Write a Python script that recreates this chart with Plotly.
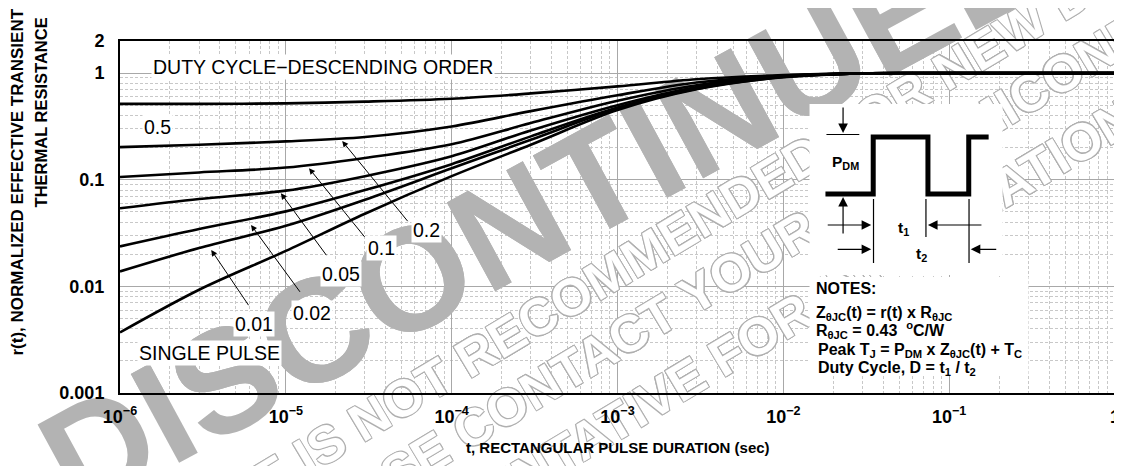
import plotly.graph_objects as go

# ---------------- data ----------------
t = [1e-6, 3e-6, 1e-5, 3e-5, 1e-4, 3e-4, 1e-3, 3e-3, 1e-2, 3e-2, 1e-1, 1.0]
r_d050 = [0.515, 0.515, 0.52, 0.54, 0.575, 0.645, 0.75, 0.875, 0.96, 0.997, 1.0, 1.0]
r_d020 = [0.202, 0.213, 0.229, 0.252, 0.316, 0.44, 0.62, 0.815, 0.945, 0.995, 1.0, 1.0]
r_d010 = [0.106, 0.117, 0.13, 0.16, 0.215, 0.34, 0.55, 0.77, 0.935, 0.995, 1.0, 1.0]
r_d005 = [0.054, 0.066, 0.079, 0.108, 0.166, 0.29, 0.5, 0.74, 0.93, 0.995, 1.0, 1.0]
r_d002 = [0.0237, 0.0345, 0.0505, 0.08, 0.14, 0.255, 0.475, 0.725, 0.925, 0.995, 1.0, 1.0]
r_d001 = [0.0138, 0.0229, 0.037, 0.065, 0.128, 0.237, 0.465, 0.715, 0.92, 0.995, 1.0, 1.0]
r_single = [0.0037, 0.0093, 0.0215, 0.048, 0.108, 0.213, 0.45, 0.705, 0.915, 0.995, 1.0, 1.0]

x_tickvals = [1e-6, 1e-5, 1e-4, 1e-3, 1e-2, 1e-1, 1]
x_ticktext = ["10<sup>−6</sup>", "10<sup>−5</sup>", "10<sup>−4</sup>", "10<sup>−3</sup>",
              "10<sup>−2</sup>", "10<sup>−1</sup>", "1"]
y_tickvals = [0.001, 0.01, 0.1, 1, 2]
y_ticktext = ["0.001", "0.01", "0.1", "1", "2"]

duty_labels = ["0.2", "0.1", "0.05", "0.02", "0.01"]

# ---------------- layout geometry (page pixels) ----------------
OFF = 8                      # page body margin of the html page
W, H = 1122 - OFF, 466 - OFF
ML, MR, MT, MB = 120 - OFF, 2, 41 - OFF, 73
PL, PR, PT, PB = 120, 1120, 41, 393   # plot area in page pixels
FONT = "Liberation Sans, Arial, Helvetica, sans-serif"
MAJOR = "#a8a8a8"
MINOR = "#c8c8c8"
YTOP = 0.30103


def px(x):
    return (x - PL) / (PR - PL)


def py(y):
    return (PB - y) / (PB - PT)


def dx(x):
    return 10 ** (-6 + 6 * px(x))


def dy(y):
    return 10 ** (-3 + (3 + YTOP) * py(y))


fig = go.Figure()
for vals in [r_d050, r_d020, r_d010, r_d005, r_d002, r_d001, r_single]:
    fig.add_trace(go.Scatter(x=t, y=vals, mode="lines",
                             line=dict(color="black", width=2.6, shape="spline", smoothing=0.9),
                             showlegend=False, hoverinfo="skip"))

axis_common = dict(showline=True, mirror=True, linecolor="black", linewidth=2,
                   ticks="", showgrid=True, gridcolor=MAJOR, gridwidth=1, zeroline=False,
                   ticklabeloverflow="allow",
                   tickfont=dict(family=FONT, size=18, color="black", weight="bold"))

fig.update_xaxes(type="log", range=[-6, 0], tickmode="array", tickvals=x_tickvals,
                 ticktext=x_ticktext, ticklabelstandoff=6,
                 minor=dict(dtick="D1", showgrid=True, gridcolor=MINOR, griddash="3px,2px", gridwidth=1),
                 **axis_common)
fig.update_yaxes(type="log", range=[-3, YTOP], tickmode="array", tickvals=y_tickvals,
                 ticktext=y_ticktext, ticklabelstandoff=10,
                 minor=dict(dtick="D1", showgrid=True, gridcolor=MINOR, griddash="3px,2px", gridwidth=1),
                 **axis_common)

ann = []


def text(s, x, y, size=19.5, bold=False, xanchor="center", bg=None, angle=0, family=FONT):
    d = dict(text=s, xref="paper", yref="paper", x=px(x), y=py(y), showarrow=False,
             xanchor=xanchor, yanchor="middle", textangle=angle,
             font=dict(family=family, size=size, color="black", weight="bold" if bold else "normal"))
    if bg:
        d.update(bgcolor=bg, borderpad=1)
    ann.append(d)


def arrow(tip, tail, head=2, size=1.2, width=1.0):
    ann.append(dict(text="", xref="paper", yref="paper", x=px(tip[0]), y=py(tip[1]),
                    ax=tail[0] - tip[0], ay=tail[1] - tip[1], showarrow=True,
                    arrowhead=head, arrowsize=size, arrowwidth=width, arrowcolor="black",
                    standoff=0, startstandoff=0))


# axis titles
text("t, RECTANGULAR PULSE DURATION (sec)", 621, 447, size=15, bold=True)
text("r(t), NORMALIZED EFFECTIVE TRANSIENT", 17, 182, size=17, bold=True, angle=-90)
text("THERMAL RESISTANCE", 41, 112, size=16.5, bold=True, angle=-90)

# curve labels
text("DUTY CYCLE−DESCENDING ORDER", 324.5, 67, bg="white")
text("0.5", 158, 127, bg="white")
label_pos = [(428, 230), (383, 248), (342, 274), (313, 313), (255, 324)]
for s, (lx, ly) in zip(duty_labels, label_pos):
    text(s, lx, ly, bg="white")
text("SINGLE PULSE", 210, 353, bg="white")

arrows = [((343.3, 141), (410, 222.7)), ((310, 168.3), (366.7, 238.3)),
          ((281.7, 193.3), (328.3, 256.7)), ((251.7, 225), (301.7, 293.3)),
          ((211.7, 250), (250, 306.7))]
for tip, tail in arrows:
    arrow(tip, tail)

shapes = []


# watermark: one copy between gridlines and curves, one copy under the plot for the outer part
def wm(s, cx, cy, size, angle, color, shadow=None, paper=False):
    f = dict(family=FONT, size=size, color=color, weight="bold")
    if shadow:
        f["shadow"] = shadow
    d = dict(type="rect", line=dict(width=0, color="rgba(0,0,0,0)"), fillcolor="rgba(0,0,0,0)",
             label=dict(text=s, font=f, textangle=angle, textposition="middle center"))
    if paper:
        d.update(xref="paper", yref="paper", x0=px(cx - 2), x1=px(cx + 2),
                 y0=py(cy + 2), y1=py(cy - 2), layer="below")
    else:
        d.update(xref="x", yref="y", x0=dx(cx - 2), x1=dx(cx + 2),
                 y0=dy(cy + 2), y1=dy(cy - 2), layer="between")
    return d


OUT = "-1px -1px 0 #b0b0b0, 1px -1px 0 #b0b0b0, -1px 1px 0 #b0b0b0, 1px 1px 0 #b0b0b0"
wm_list = [
    ("THIS DEVICE IS NOT RECOMMENDED FOR NEW DESIGN.", 622, 262, 52, -31, "white", OUT),
    ("PLEASE CONTACT YOUR ON SEMICONDUCTOR", 785, 236, 52, -31, "white", OUT),
    ("REPRESENTATIVE FOR INFORMATION", 718, 356, 52, -31, "white", OUT),
    ("DISCONTINUED", 540, 194, 147, -28.5, "#b3b3b3", None),
]
for paper in (True, False):
    for s, cx, cy, size, ang, col, sh in wm_list:
        try:
            go.Layout(shapes=[wm(s, cx, cy, size, ang, col, sh, paper)])
            shapes.append(wm(s, cx, cy, size, ang, col, sh, paper))
        except Exception:
            shapes.append(wm(s, cx, cy, size, ang, "#dddddd" if sh else col, None, paper))

# inset (white boxes, waveform)
shapes.append(dict(type="rect", xref="paper", yref="paper", x0=px(813), x1=px(1007),
                   y0=py(275), y1=py(104), fillcolor="white", line=dict(width=0), layer="above"))
shapes.append(dict(type="rect", xref="paper", yref="paper", x0=px(813), x1=px(1033),
                   y0=py(376), y1=py(277), fillcolor="white", line=dict(width=0), layer="above"))

wave = [(829, 194), (877, 194), (877, 137), (932, 137), (932, 194), (973, 194), (973, 137), (993, 137)]
path = "M " + " L ".join(f"{px(a):.5f},{py(b):.5f}" for a, b in wave)
shapes.append(dict(type="path", xref="paper", yref="paper", path=path,
                   line=dict(color="black", width=5), layer="above"))


def seg(x0, y0, x1, y1, w=1.2):
    shapes.append(dict(type="line", xref="paper", yref="paper", x0=px(x0), y0=py(y0),
                       x1=px(x1), y1=py(y1), line=dict(color="black", width=w), layer="above"))


seg(830, 134.5, 863, 134.5)
seg(877.3, 199, 877.3, 263)
seg(930, 199, 930, 237)
seg(973.3, 199, 973.3, 263)
arrow((846.7, 133), (846.7, 106), head=2, size=1.6, width=1.2)
arrow((846.7, 197), (846.7, 235), head=2, size=1.6, width=1.2)
arrow((875, 225), (830, 225), head=2, size=1.6, width=1.2)
arrow((932, 225), (987, 225), head=2, size=1.6, width=1.2)
arrow((875, 249.3), (840, 249.3), head=2, size=1.6, width=1.2)
arrow((975, 249.3), (1002, 249.3), head=2, size=1.6, width=1.2)
text("P<sub>DM</sub>", 849, 162, size=15.5, bold=True)
text("t<sub>1</sub>", 907, 228, size=15.5, bold=True)
text("t<sub>2</sub>", 926, 254, size=15.5, bold=True)

# notes
NS = 16
text("NOTES:", 817, 288, size=NS, bold=True, xanchor="left")
text("Z<sub>θJC</sub>(t) = r(t) x R<sub>θJC</sub>", 817, 313, size=NS, bold=True, xanchor="left")
text("R<sub>θJC</sub> = 0.43  <sup>o</sup>C/W", 817, 330, size=NS, bold=True, xanchor="left")
text("Peak T<sub>J</sub> = P<sub>DM</sub> x Z<sub>θJC</sub>(t) + T<sub>C</sub>", 819, 350, size=NS, bold=True, xanchor="left")
text("Duty Cycle, D = t<sub>1</sub> / t<sub>2</sub>", 819, 368, size=NS, bold=True, xanchor="left")

fig.update_layout(width=W, height=H, margin=dict(l=ML, r=MR, t=MT, b=MB, pad=0),
                  paper_bgcolor="white", plot_bgcolor="white", showlegend=False,
                  font=dict(family=FONT, color="black"),
                  annotations=ann, shapes=shapes)

fig.write_html("out.html")
